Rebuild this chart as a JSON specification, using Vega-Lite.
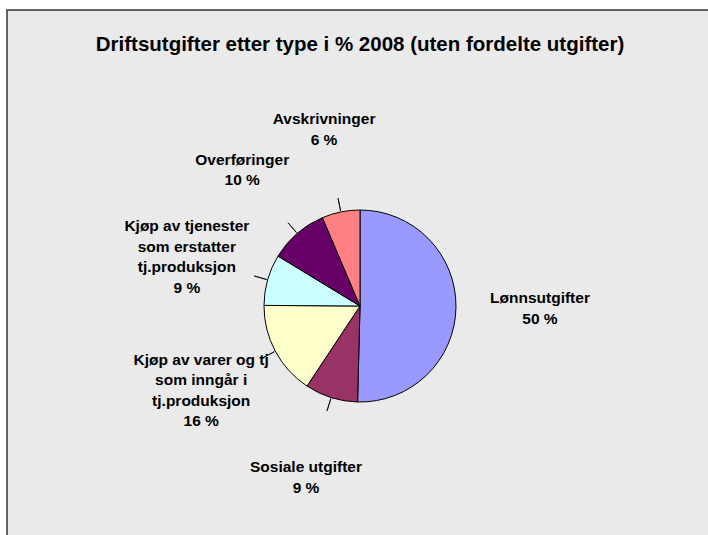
{
  "$schema": "https://vega.github.io/schema/vega-lite/v6.json",
  "autosize": "none",
  "width": 706,
  "height": 592,
  "padding": {"left": 7, "top": 10, "right": -5, "bottom": -67},
  "background": "white",
  "view": {"fill": "#EAEAEA", "stroke": "#333333", "strokeWidth": 1.5, "strokeDash": [706, 1298, 592]},
  "title": {
    "text": "Driftsutgifter etter type i % 2008 (uten fordelte utgifter)",
    "font": "Liberation Sans",
    "fontSize": 20.5,
    "fontWeight": "bold",
    "color": "#000000",
    "anchor": "middle",
    "baseline": "middle",
    "offset": -55
  },
  "data": {
    "values": [
      {"idx": 1, "category": "Lønnsutgifter", "value": 50.4, "label": "Lønnsutgifter\n50 %"},
      {"idx": 2, "category": "Sosiale utgifter", "value": 8.9, "label": "Sosiale utgifter\n9 %"},
      {"idx": 3, "category": "Kjøp av varer og tj som inngår i tj.produksjon", "value": 15.8, "label": "Kjøp av varer og tj\nsom inngår i\ntj.produksjon\n16 %"},
      {"idx": 4, "category": "Kjøp av tjenester som erstatter tj.produksjon", "value": 8.6, "label": "Kjøp av tjenester\nsom erstatter\ntj.produksjon\n9 %"},
      {"idx": 5, "category": "Overføringer", "value": 9.9, "label": "Overføringer\n10 %"},
      {"idx": 6, "category": "Avskrivninger", "value": 6.4, "label": "Avskrivninger\n6 %"}
    ]
  },
  "transform": [
    {"window": [{"op": "sum", "field": "value", "as": "cum"}], "sort": [{"field": "idx"}], "frame": [null, 0]},
    {"calculate": "datum.cum - datum.value / 2", "as": "mid"}
  ],
  "layer": [
    {
      "mark": {"type": "arc", "radius": 96, "stroke": "#000000", "strokeWidth": 1},
      "encoding": {
        "theta": {"field": "value", "type": "quantitative", "stack": true, "scale": {"domain": [0, 100]}},
        "order": {"field": "idx", "type": "quantitative"},
        "color": {
          "field": "category",
          "type": "nominal",
          "legend": null,
          "scale": {
            "domain": ["Lønnsutgifter", "Sosiale utgifter", "Kjøp av varer og tj som inngår i tj.produksjon", "Kjøp av tjenester som erstatter tj.produksjon", "Overføringer", "Avskrivninger"],
            "range": ["#9999FF", "#993366", "#FFFFCC", "#CCFFFF", "#660066", "#FF8080"]
          }
        }
      }
    },
    {
      "transform": [{"filter": "datum.category !== 'Lønnsutgifter'"}],
      "mark": {"type": "arc", "radius": 110, "radius2": 97, "fill": null, "stroke": "#000000", "strokeWidth": 0.8},
      "encoding": {
        "theta": {"field": "mid", "type": "quantitative", "stack": null},
        "theta2": {"field": "mid"}
      }
    },
    {
      "mark": {"type": "text", "radius": 180, "font": "Liberation Sans", "fontSize": 15.5, "fontWeight": "bold", "color": "#000000", "lineBreak": "\n", "lineHeight": 20.5, "align": "center", "baseline": "middle", "dy": {"expr": "-(length(split(datum.label, '\\n')) - 1) * 10.25"}},
      "encoding": {
        "theta": {"field": "mid", "type": "quantitative", "stack": null},
        "text": {"field": "label", "type": "nominal"}
      }
    }
  ]
}
